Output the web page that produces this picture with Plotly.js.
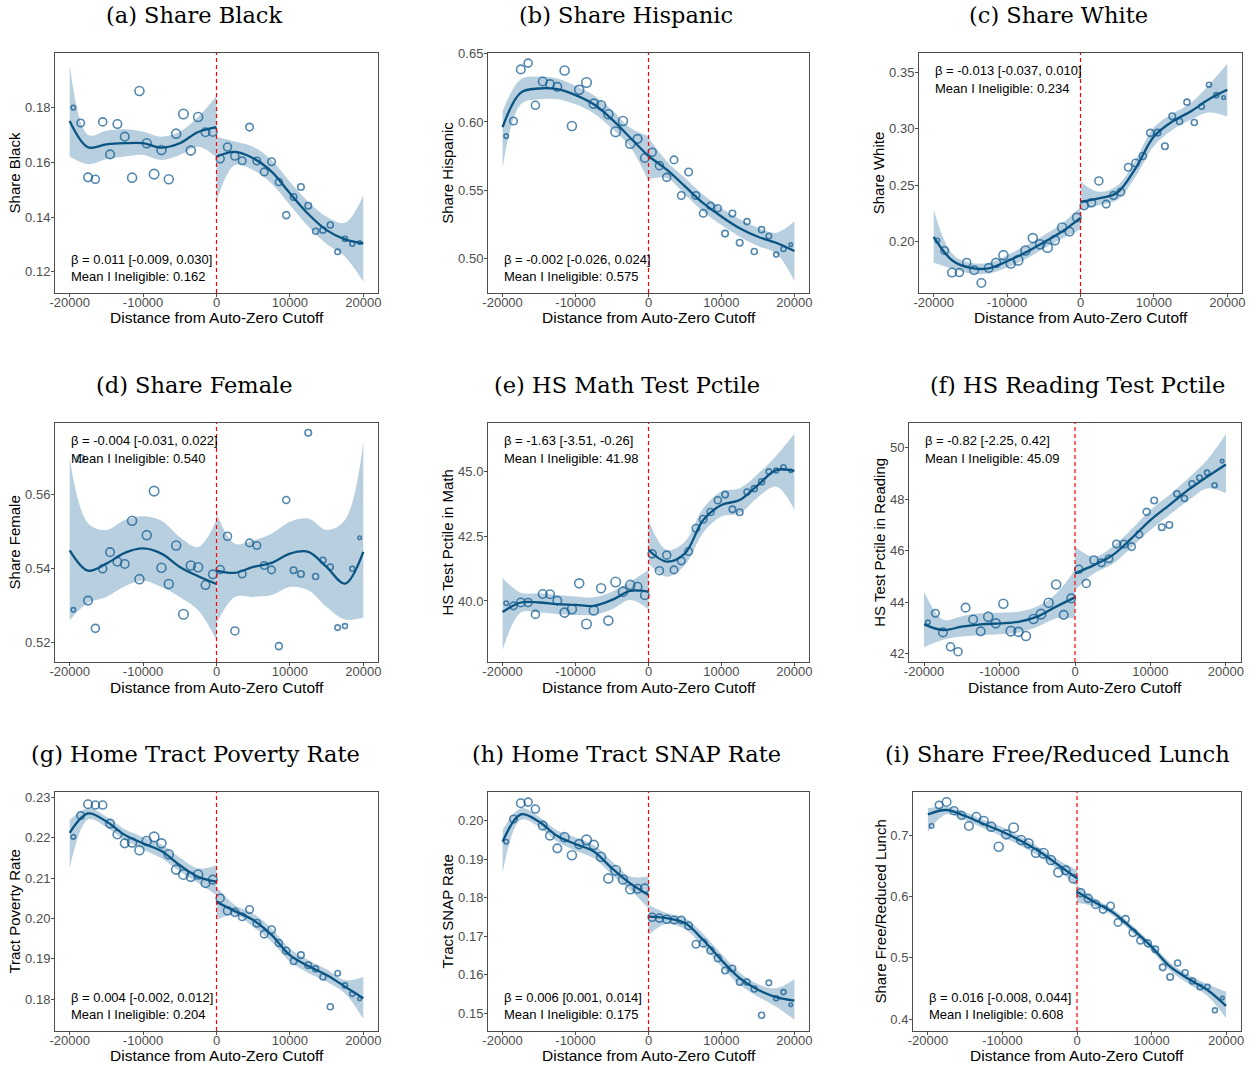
<!DOCTYPE html>
<html>
<head>
<meta charset="utf-8">
<script src="https://cdn.plot.ly/plotly-3.0.1.min.js"></script>
<style>html,body{margin:0;padding:0;background:#fff;}#chart{width:1251px;height:1067px;}</style>
</head>
<body>
<div id="chart"></div>
<script>
// ---------- shared data ----------
const binX = [-19500,-18500,-17500,-16500,-15500,-14500,-13500,-12500,-11500,-10500,-9500,-8500,-7500,-6500,-5500,-4500,-3500,-2500,-1500,-500,
              500,1500,2500,3500,4500,5500,6500,7500,8500,9500,10500,11500,12500,13500,14500,15500,16500,17500,18500,19500];
const binSize = [4.5,7.5,8.5,8,8,8.5,8.5,8.5,9,9,9,9.5,9,9,9,9.5,9,9,8.5,8.5,
                 8,8,8,7.5,7.5,7.5,7.5,7.5,7,7,6.5,6.5,6.5,6,6,6,5.5,5,5,3.5];
const fitXL = [-20000,-17500,-15000,-12500,-10000,-7500,-5000,-2500,0];
const fitXR = [0,2500,5000,7500,10000,12500,15000,17500,20000];
const xTickVals = [-20000,-10000,0,10000,20000];
const xTickText = ['-20000','-10000','0','10000','20000'];

// (a) Share Black
const blackY = [0.1800,0.1744,0.1545,0.1538,0.1748,0.1629,0.1740,0.1694,0.1544,0.1861,0.1670,0.1557,0.1645,0.1538,0.1705,0.1777,0.1643,0.1766,0.1710,0.1711,0.1613,0.1656,0.1623,0.1606,0.1729,0.1605,0.1565,0.1602,0.1528,0.1407,0.1473,0.1510,0.1441,0.1348,0.1352,0.1371,0.1273,0.1320,0.1302,0.1307];
const blackFitL = [0.1751,0.1655,0.1666,0.1670,0.1670,0.1654,0.1670,0.1711,0.1729];
const blackLoL = [0.1621,0.1593,0.1611,0.1621,0.1627,0.1609,0.1627,0.1657,0.1618];
const blackHiL = [0.1956,0.1700,0.1716,0.1721,0.1712,0.1694,0.1712,0.1767,0.1843];
const blackFitR = [0.1621,0.1638,0.1615,0.1566,0.1487,0.1411,0.1352,0.1318,0.1304];
const blackLoR = [0.1456,0.1590,0.1572,0.1523,0.1444,0.1365,0.1301,0.1255,0.1163];
const blackHiR = [0.1694,0.1676,0.1657,0.1609,0.1529,0.1456,0.1401,0.1379,0.1480];
const blackTicks = [0.12,0.14,0.16,0.18];

// (b) Share Hispanic
const hispY = [0.5896,0.6007,0.6385,0.6431,0.6122,0.6296,0.6277,0.6257,0.6377,0.5970,0.6235,0.6289,0.6134,0.6122,0.6056,0.5928,0.6007,0.5840,0.5876,0.5736,0.5778,0.5680,0.5594,0.5722,0.5461,0.5633,0.5461,0.5331,0.5385,0.5368,0.5182,0.5329,0.5115,0.5270,0.5051,0.5211,0.5164,0.5029,0.5069,0.5101];
const hispFitL = [0.5962,0.6215,0.6245,0.6240,0.6196,0.6129,0.6019,0.5884,0.5749];
const hispLoL = [0.5663,0.6129,0.6166,0.6166,0.6129,0.6063,0.5950,0.5817,0.5565];
const hispHiL = [0.6080,0.6313,0.6333,0.6318,0.6264,0.6196,0.6088,0.5957,0.5896];
const hispFitR = [0.5749,0.5650,0.5528,0.5405,0.5307,0.5221,0.5159,0.5115,0.5054];
const hispLoR = [0.5577,0.5589,0.5466,0.5343,0.5245,0.5159,0.5091,0.5037,0.4835];
const hispHiR = [0.5884,0.5712,0.5589,0.5466,0.5368,0.5287,0.5226,0.5189,0.5270];
const hispTicks = [0.50,0.55,0.60,0.65];

// (c) Share White
const whiteY = [0.2009,0.1920,0.1725,0.1725,0.1814,0.1746,0.1633,0.1766,0.1811,0.1879,0.1805,0.1834,0.1920,0.2030,0.1976,0.1947,0.2012,0.2124,0.2086,0.2213,0.2317,0.2343,0.2536,0.2331,0.2408,0.2438,0.2657,0.2695,0.2757,0.2962,0.2964,0.2843,0.3109,0.3062,0.3234,0.3053,0.3195,0.3388,0.3296,0.3275];
const whiteFitL = [0.2041,0.1834,0.1766,0.1763,0.1825,0.1902,0.1994,0.2089,0.2210];
const whiteLoL = [0.1811,0.1760,0.1716,0.1716,0.1769,0.1843,0.1938,0.2027,0.2107];
const whiteHiL = [0.2284,0.1893,0.1811,0.1811,0.1879,0.1962,0.2056,0.2160,0.2308];
const whiteFitR = [0.2352,0.2382,0.2432,0.2648,0.2929,0.3062,0.3151,0.3260,0.3343];
const whiteLoR = [0.2278,0.2322,0.2367,0.2574,0.2846,0.2988,0.3077,0.3142,0.3107];
const whiteHiR = [0.2530,0.2441,0.2494,0.2722,0.3012,0.3130,0.3225,0.3388,0.3574];
const whiteTicks = [0.20,0.25,0.30,0.35];

// (d) Share Female
const femY = [0.5289,0.5698,0.5314,0.5239,0.5400,0.5445,0.5419,0.5413,0.5530,0.5372,0.5491,0.5610,0.5403,0.5359,0.5463,0.5277,0.5409,0.5404,0.5356,0.5385,0.5398,0.5488,0.5232,0.5386,0.5470,0.5463,0.5409,0.5397,0.5191,0.5586,0.5396,0.5386,0.5768,0.5379,0.5423,0.5405,0.5241,0.5245,0.5400,0.5484];
const femFitL = [0.5450,0.5395,0.5414,0.5443,0.5455,0.5441,0.5405,0.5380,0.5359];
const femLoL = [0.5261,0.5308,0.5324,0.5353,0.5368,0.5351,0.5324,0.5288,0.5207];
const femHiL = [0.5698,0.5523,0.5505,0.5532,0.5542,0.5530,0.5486,0.5459,0.5532];
const femFitR = [0.5395,0.5389,0.5405,0.5416,0.5441,0.5446,0.5405,0.5360,0.5446];
const femLoR = [0.5252,0.5324,0.5324,0.5329,0.5351,0.5342,0.5297,0.5263,0.5268];
const femHiR = [0.5550,0.5468,0.5477,0.5495,0.5527,0.5536,0.5505,0.5532,0.5743];
const femTicks = [0.52,0.54,0.56];

// (e) HS Math Test Pctile
const mathY = [39.91,39.81,39.94,39.94,39.48,40.27,40.26,40.01,39.55,39.68,40.68,39.11,39.63,40.49,39.24,40.73,40.36,40.62,40.55,40.22,41.82,41.17,41.77,41.20,41.55,41.91,42.81,43.16,43.44,43.89,44.11,43.54,43.43,44.21,44.34,44.61,45.00,45.04,45.17,45.03];
const mathFitL = [39.57,39.94,39.94,39.88,39.85,39.81,40.04,40.39,40.36];
const mathLoL = [38.11,39.55,39.55,39.50,39.46,39.46,39.68,40.04,39.68];
const mathHiL = [40.88,40.32,40.30,40.23,40.17,40.14,40.36,40.75,41.20];
const mathFitR = [41.97,41.52,41.84,43.13,43.71,43.90,44.48,45.06,45.03];
const mathLoR = [41.46,40.94,41.39,42.64,43.26,43.39,44.01,44.42,43.52];
const mathHiR = [43.13,41.97,42.29,43.58,44.23,44.36,44.91,45.61,46.46];
const mathTicks = [40.0,42.5,45.0];

// (f) HS Reading Test Pctile
const readY = [43.22,43.57,42.83,42.27,42.08,43.79,43.33,42.87,43.44,43.18,43.94,42.88,42.85,42.69,43.35,43.54,43.98,44.69,43.51,44.15,45.28,44.73,45.64,45.53,45.69,46.26,46.26,46.16,46.63,47.51,47.95,46.91,47.00,48.21,48.03,48.60,48.83,49.03,48.54,49.48];
const readFitL = [43.14,42.92,43.05,43.14,43.18,43.24,43.44,43.83,44.19];
const readLoL = [42.25,42.54,42.67,42.72,42.76,42.82,43.05,43.37,43.37];
const readHiL = [44.41,43.33,43.46,43.57,43.59,43.63,43.83,44.34,45.25];
const readFitR = [45.12,45.44,45.83,46.48,47.19,47.77,48.36,48.87,49.35];
const readLoR = [44.47,45.12,45.48,46.13,46.80,47.39,47.94,48.42,48.23];
const readHiR = [46.16,45.76,46.16,46.83,47.58,48.16,48.81,49.52,50.53];
const readTicks = [42,44,46,48,50];

// (g) Home Tract Poverty Rate
const povY = [0.2202,0.2255,0.2283,0.2281,0.2281,0.2235,0.2208,0.2186,0.2188,0.2169,0.2192,0.2202,0.2186,0.2159,0.2121,0.2109,0.2103,0.2109,0.2087,0.2096,0.2050,0.2019,0.2015,0.2004,0.2022,0.1988,0.1961,0.1972,0.1939,0.1920,0.1894,0.1909,0.1884,0.1875,0.1855,0.1781,0.1864,0.1834,0.1813,0.1801];
const povFitL = [0.2212,0.2260,0.2240,0.2207,0.2186,0.2167,0.2132,0.2103,0.2091];
const povLoL = [0.2124,0.2245,0.2226,0.2194,0.2171,0.2149,0.2116,0.2088,0.2058];
const povHiL = [0.2244,0.2273,0.2252,0.2221,0.2202,0.2184,0.2151,0.2124,0.2132];
const povFitR = [0.2041,0.2018,0.1996,0.1959,0.1909,0.1882,0.1860,0.1831,0.1802];
const povLoR = [0.1996,0.2009,0.1979,0.1942,0.1893,0.1865,0.1843,0.1814,0.1750];
const povHiR = [0.2079,0.2033,0.2012,0.1975,0.1925,0.1897,0.1874,0.1847,0.1855];
const povTicks = [0.18,0.19,0.20,0.21,0.22,0.23];

// (h) Home Tract SNAP Rate
const snapY = [0.1945,0.2004,0.2045,0.2048,0.2030,0.1987,0.1961,0.1928,0.1957,0.1910,0.1939,0.1950,0.1937,0.1906,0.1850,0.1871,0.1847,0.1822,0.1823,0.1824,0.1749,0.1747,0.1744,0.1742,0.1742,0.1727,0.1679,0.1682,0.1663,0.1643,0.1611,0.1616,0.1581,0.1581,0.1563,0.1495,0.1579,0.1539,0.1555,0.1522];
const snapFitL = [0.1945,0.2016,0.1997,0.1960,0.1939,0.1920,0.1876,0.1837,0.1807];
const snapLoL = [0.1865,0.2002,0.1984,0.1945,0.1922,0.1902,0.1859,0.1820,0.1772];
const snapHiL = [0.1976,0.2032,0.2010,0.1974,0.1956,0.1937,0.1894,0.1855,0.1855];
const snapFitR = [0.1751,0.1747,0.1734,0.1690,0.1638,0.1591,0.1561,0.1542,0.1533];
const snapLoR = [0.1703,0.1732,0.1718,0.1673,0.1621,0.1574,0.1543,0.1517,0.1483];
const snapHiR = [0.1781,0.1760,0.1747,0.1706,0.1654,0.1606,0.1576,0.1565,0.1588];
const snapTicks = [0.15,0.16,0.17,0.18,0.19,0.20];

// (i) Share Free/Reduced Lunch
const frlY = [0.7147,0.7488,0.7537,0.7396,0.7320,0.7147,0.7298,0.7233,0.7136,0.6810,0.7011,0.7119,0.6919,0.6864,0.6712,0.6702,0.6593,0.6392,0.6425,0.6289,0.6061,0.5969,0.5871,0.5790,0.5844,0.5578,0.5627,0.5410,0.5285,0.5237,0.5139,0.4846,0.4689,0.4916,0.4759,0.4623,0.4526,0.4531,0.4146,0.4347];
const frlFitL = [0.7336,0.7407,0.7309,0.7179,0.7054,0.6902,0.6729,0.6512,0.6295];
const frlLoL = [0.7054,0.7336,0.7244,0.7109,0.6973,0.6821,0.6647,0.6430,0.6159];
const frlHiL = [0.7434,0.7461,0.7369,0.7244,0.7125,0.6973,0.6794,0.6593,0.6430];
const frlFitR = [0.6078,0.5899,0.5725,0.5464,0.5182,0.4857,0.4656,0.4477,0.4217];
const frlLoR = [0.5899,0.5833,0.5671,0.5399,0.5117,0.4792,0.4575,0.4379,0.4016];
const frlHiR = [0.6186,0.5953,0.5779,0.5519,0.5237,0.4922,0.4721,0.4575,0.4450];
const frlTicks = [0.4,0.5,0.6,0.7];

const panelTitles = ['(a) Share Black','(b) Share Hispanic','(c) Share White','(d) Share Female','(e) HS Math Test Pctile','(f) HS Reading Test Pctile','(g) Home Tract Poverty Rate','(h) Home Tract SNAP Rate','(i) Share Free/Reduced Lunch'];
const yTitles = ['Share Black','Share Hispanic','Share White','Share Female','HS Test Pctile in Math','HS Test Pctile in Reading','Tract Poverty Rate','Tract SNAP Rate','Share Free/Reduced Lunch'];
const betaText = ['β = 0.011 [-0.009, 0.030]','β = -0.002 [-0.026, 0.024]','β = -0.013 [-0.037, 0.010]','β = -0.004 [-0.031, 0.022]','β = -1.63 [-3.51, -0.26]','β = -0.82 [-2.25, 0.42]','β = 0.004 [-0.002, 0.012]','β = 0.006 [0.001, 0.014]','β = 0.016 [-0.008, 0.044]'];
const meanText = ['Mean I Ineligible: 0.162','Mean I Ineligible: 0.575','Mean I Ineligible: 0.234','Mean I Ineligible: 0.540','Mean I Ineligible: 41.98','Mean I Ineligible: 45.09','Mean I Ineligible: 0.204','Mean I Ineligible: 0.175','Mean I Ineligible: 0.608'];
const xTitle = 'Distance from Auto-Zero Cutoff';

// ---------- layout geometry (pixels) ----------
const W = 1251, H = 1067;
const panels = [
  {y:blackY, fl:blackFitL, ll:blackLoL, hl:blackHiL, fr:blackFitR, lr:blackLoR, hr:blackHiR, ticks:blackTicks, fmt:'.2f', yr:[0.1122,0.2000], px:[55,378], py:[53,293], top:false},
  {y:hispY, fl:hispFitL, ll:hispLoL, hl:hispHiL, fr:hispFitR, lr:hispLoR, hr:hispHiR, ticks:hispTicks, fmt:'.2f', yr:[0.4747,0.6505], px:[488,809], py:[53,293], top:false},
  {y:whiteY, fl:whiteFitL, ll:whiteLoL, hl:whiteHiL, fr:whiteFitR, lr:whiteLoR, hr:whiteHiR, ticks:whiteTicks, fmt:'.2f', yr:[0.1544,0.3669], px:[919,1242], py:[53,293], top:true},
  {y:femY, fl:femFitL, ll:femLoL, hl:femHiL, fr:femFitR, lr:femLoR, hr:femHiR, ticks:femTicks, fmt:'.2f', yr:[0.5148,0.5795], px:[55,378], py:[422.7,662], top:true},
  {y:mathY, fl:mathFitL, ll:mathLoL, hl:mathHiL, fr:mathFitR, lr:mathLoR, hr:mathHiR, ticks:mathTicks, fmt:'.1f', yr:[37.64,46.89], px:[488,809], py:[422.7,662], top:true},
  {y:readY, fl:readFitL, ll:readLoL, hl:readHiL, fr:readFitR, lr:readLoR, hr:readHiR, ticks:readTicks, fmt:'d', yr:[41.68,50.97], px:[909,1241], py:[422.7,662], top:true},
  {y:povY, fl:povFitL, ll:povLoL, hl:povHiL, fr:povFitR, lr:povLoR, hr:povHiR, ticks:povTicks, fmt:'.2f', yr:[0.1721,0.2314], px:[55,378], py:[791.7,1031], top:false},
  {y:snapY, fl:snapFitL, ll:snapLoL, hl:snapHiL, fr:snapFitR, lr:snapLoR, hr:snapHiR, ticks:snapTicks, fmt:'.2f', yr:[0.1454,0.2075], px:[488,809], py:[791.7,1031], top:false},
  {y:frlY, fl:frlFitL, ll:frlLoL, hl:frlHiL, fr:frlFitR, lr:frlLoR, hr:frlHiR, ticks:frlTicks, fmt:'.1f', yr:[0.381,0.7705], px:[913,1241], py:[791.7,1031], top:false}
];
const titlePos = [[194,15],[626,15],[1058,15],[194,385],[627,385],[1077,385],[195,754],[626,754],[1057,754]];
const xTitleY = [318,318,318,687,687,687,1055,1055,1055];

const bandColor = 'rgb(183,207,222)';
const lineColor = 'rgb(10,84,130)';
const ptColor = 'rgb(12,86,140)';
const axisColor = '#4d4d4d';
const sans = 'Liberation Sans, Arial, Helvetica, sans-serif';

const traces = [];
const layout = {
  width: W, height: H, margin: {l:0, r:0, t:0, b:0},
  paper_bgcolor: '#fff', plot_bgcolor: '#fff', showlegend: false,
  font: {family: sans, color: '#000'},
  annotations: [], shapes: []
};

panels.forEach((p, i) => {
  const n = i + 1;
  const xa = n === 1 ? 'x' : 'x' + n;
  const ya = n === 1 ? 'y' : 'y' + n;
  const xk = n === 1 ? 'xaxis' : 'xaxis' + n;
  const yk = n === 1 ? 'yaxis' : 'yaxis' + n;
  const common = {xaxis: xa, yaxis: ya, hoverinfo: 'skip'};
  // confidence bands
  [[p.ll, p.hl, fitXL], [p.lr, p.hr, fitXR]].forEach(([lo, hi, xs]) => {
    traces.push(Object.assign({type:'scatter', mode:'lines', x: xs, y: lo, line:{width:0, shape:'spline', color:bandColor}}, common));
    traces.push(Object.assign({type:'scatter', mode:'lines', x: xs, y: hi, fill:'tonexty', fillcolor:bandColor, line:{width:0, shape:'spline', color:bandColor}}, common));
  });
  // fit lines
  traces.push(Object.assign({type:'scatter', mode:'lines', x: fitXL, y: p.fl, line:{width:2.3, shape:'spline', color:lineColor}}, common));
  traces.push(Object.assign({type:'scatter', mode:'lines', x: fitXR, y: p.fr, line:{width:2.3, shape:'spline', color:lineColor}}, common));
  // binned points
  traces.push(Object.assign({type:'scatter', mode:'markers', x: binX, y: p.y,
    marker:{symbol:'circle-open', size: binSize, color: ptColor, line:{width:1.6, color: ptColor}}}, common));

  layout[xk] = {
    domain: [p.px[0]/W, p.px[1]/W], anchor: ya, range: [-22000, 22000],
    tickvals: xTickVals, ticktext: xTickText,
    showline: true, mirror: true, linecolor: axisColor, linewidth: 1,
    ticks: 'outside', ticklen: 3, tickcolor: axisColor, showgrid: false, zeroline: false,
    ticklabelstandoff: -6,
    tickfont: {family: sans, size: 13, color: axisColor}
  };
  layout[yk] = {
    domain: [1 - p.py[1]/H, 1 - p.py[0]/H], anchor: xa, range: p.yr,
    tickvals: p.ticks, tickformat: p.fmt,
    showline: true, mirror: true, linecolor: axisColor, linewidth: 1,
    ticks: 'outside', ticklen: 3, tickcolor: axisColor, showgrid: false, zeroline: false,
    ticklabelstandoff: -2,
    tickfont: {family: sans, size: 13, color: axisColor},
    title: {text: yTitles[i], font: {family: sans, size: 15, color: '#000'}, standoff: 0}
  };
  // x-axis title as annotation for exact placement
  layout.annotations.push({xref: xa + ' domain', yref: 'paper', x: 0.5, y: 1 - xTitleY[i]/H,
    xanchor: 'center', yanchor: 'middle', text: xTitle, showarrow: false,
    font: {family: sans, size: 15.5, color: '#000'}});
  layout.shapes.push({type:'line', xref: xa, yref: ya + ' domain', x0: 0, x1: 0, y0: 0, y1: 1,
    line: {color: '#ff0000', width: 1.2, dash: '4px,3px'}, layer: 'above'});
  const yb = p.top ? 0.925 : 0.14;
  const ym = p.top ? 0.851 : 0.068;
  layout.annotations.push({xref: xa, yref: ya + ' domain', x: -20000, y: yb, xanchor: 'left', yanchor: 'middle',
    text: betaText[i], showarrow: false, borderpad: 0, font: {family: sans, size: 13, color: '#000'}});
  layout.annotations.push({xref: xa, yref: ya + ' domain', x: -20000, y: ym, xanchor: 'left', yanchor: 'middle',
    text: meanText[i], showarrow: false, borderpad: 0, font: {family: sans, size: 13, color: '#000'}});
  layout.annotations.push({xref: 'paper', yref: 'paper', x: titlePos[i][0]/W, y: 1 - titlePos[i][1]/H,
    xanchor: 'center', yanchor: 'middle', text: panelTitles[i], showarrow: false,
    font: {family: 'DejaVu Serif, Liberation Serif, serif', size: 22.5, color: '#000'}});
});

Plotly.newPlot('chart', traces, layout, {staticPlot: true, displayModeBar: false});
</script>
</body>
</html>
